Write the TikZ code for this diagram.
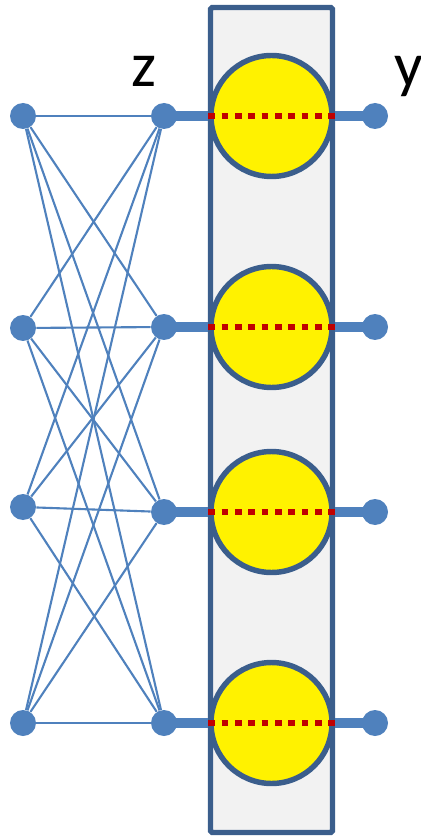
\documentclass[tikz,border=0pt]{standalone}
\usepackage{fontspec}
\setmainfont{Carlito}
\usepackage{tikz}
\usetikzlibrary{backgrounds}
\definecolor{nodeblue}{RGB}{79, 129, 189}
\definecolor{frameblue}{RGB}{59, 94, 140}
\definecolor{boxgray}{RGB}{242, 242, 242}
\definecolor{dotred}{RGB}{192, 0, 0}
\tikzset{
    neuron/.style={circle, fill=nodeblue, inner sep=0pt, minimum size=0.52cm},
    unit/.style={circle, draw=frameblue, fill=yellow, line width=3.1pt, inner sep=0pt, minimum size=2.42cm},
    wire/.style={nodeblue, line width=1.2pt},
    bus/.style={nodeblue, line width=5.2pt},
    dashline/.style={dotred, line width=3.7pt, dash pattern=on 3.7pt off 3.9pt},
    biglabel/.style={inner sep=0pt, font=\fontsize{36}{40}\selectfont}
}

\begin{document}
\begin{tikzpicture}[x=0.02cm, y=-0.02cm]
    \useasboundingbox (0, 0) rectangle (421, 837);

    % 输入层
    \foreach \i/\yy in {1/116, 2/328, 3/507, 4/723}
        \node[neuron] (l\i) at (23, \yy) {};

    % 中间层、单元和输出
    \foreach \i/\yy in {1/116, 2/327, 3/512, 4/723} {
        \node[neuron] (z\i) at (164, \yy) {};
        \node[unit] (u\i) at (271.5, \yy) {};
        \node[neuron] (y\i) at (375, \yy) {};
    }

    % 标注
    \node[biglabel, anchor=base] (zlabel) at (144, 87) {z};
    \node[biglabel, anchor=base west] (ylabel) at (394, 87) {y};

    % 背景框和连线
    \begin{scope}[on background layer]
        \draw[frameblue, fill=boxgray, line width=3.1pt, rounded corners=1pt] (210.5, 7.5) rectangle (332.5, 832.5);
        \foreach \i in {1,...,4}
            \foreach \j in {1,...,4}
                \draw[wire] (l\i) -- (z\j);
        \foreach \i in {1,...,4} {
            \draw[bus] (z\i.center) -- (u\i.west);
            \draw[bus] (u\i.east) -- (y\i.center);
        }
    \end{scope}

    % 虚线
    \foreach \i in {1,...,4}
        \draw[dashline] (u\i.west) -- (u\i.east);
\end{tikzpicture}
\end{document}
